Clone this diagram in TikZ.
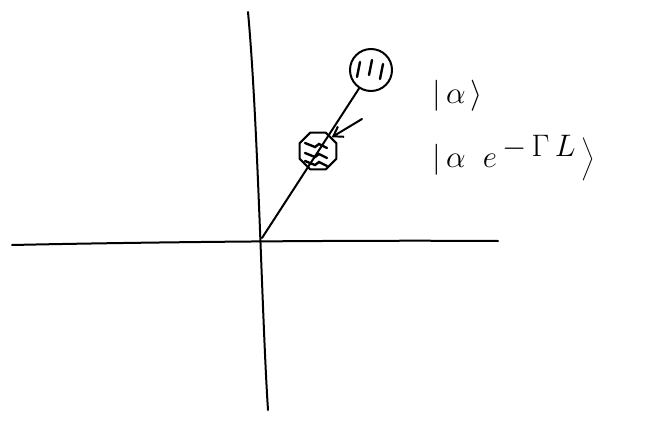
\documentclass[tikz,border=0pt]{standalone}
\usepackage{tikz}
\usetikzlibrary{arrows.meta,shapes.geometric}
\tikzset{
  ink/.style={line width=2pt, line cap=round, line join=round},
  blob/.style={draw, ink, minimum width=42pt, minimum height=42pt, inner sep=0pt},
  hatch/.style={line width=2.4pt, line cap=round},
  ket/.style={font=\LARGE, scale=1.8, transform shape, inner sep=0pt, anchor=west}
}
\begin{document}
\begin{tikzpicture}[x=1pt,y=-1pt]
\useasboundingbox (0,0) rectangle (662,423);
% axes
\coordinate (o) at (262,238);
\coordinate (ytop) at (248,12);
\coordinate (ybot) at (268,410);
\coordinate (xl) at (12,245);
\coordinate (xr) at (498,241);
\draw[ink] (ytop) .. controls (258,120) and (262,320) .. (ybot);
\draw[ink] (xl) .. controls (150,242) and (350,240) .. (xr);
% states
\node[blob, ellipse] (outer) at (371,70) {};
\node[blob, regular polygon, regular polygon sides=8, minimum size=40pt] (inner) at (318,151) {};
\draw[ink] (o) -- (outer);
\coordinate (tail) at (362,119);
\draw[ink, -{Straight Barb[length=9pt,width=12pt]}] (tail) -- (inner.north east);
% hatching
\foreach \x/\y in {360/62, 372/60, 383/64}
  \draw[hatch] (\x,\y) -- ++(-3,15);
\foreach \y in {143, 153, 161}
  \draw[hatch] (305,\y) -- ++(10,4) -- ++(4,-3) -- ++(8,4);
% labels
\node[ket] (a) at (432,96) {$|\,\alpha\,\rangle$};
\node[ket] (ae) at (432,158) {$|\,\alpha\;\;e^{\textstyle\,-\,\Gamma\,L}\,\bigg\rangle$};
\end{tikzpicture}
\end{document}
